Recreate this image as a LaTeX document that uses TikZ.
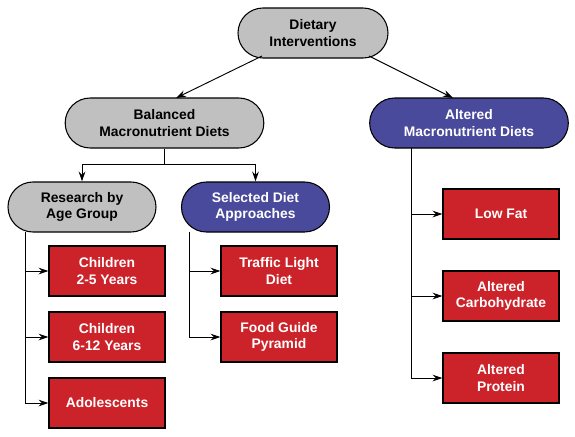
\documentclass[tikz,border=0pt]{standalone}
\usepackage{fontspec}
\setmainfont{Liberation Sans}
\usetikzlibrary{arrows.meta,shapes.misc}
\definecolor{gbox}{HTML}{C0C0C0}
\definecolor{bbox}{HTML}{4A4A9C}
\definecolor{rbox}{HTML}{CC2229}
\tikzset{
  pill/.style={rounded rectangle, draw=black, line width=0.8pt, minimum height=37.5pt, align=center, font=\bfseries\fontsize{10.4}{12.2}\selectfont, inner sep=0pt},
  graypill/.style={pill, fill=gbox, text=black},
  bluepill/.style={pill, fill=bbox, text=white},
  redbox/.style={rectangle, draw=black, line width=0.8pt, fill=rbox, text=white, minimum width=87pt, minimum height=37.5pt, align=center, font=\bfseries\fontsize{10.4}{12.2}\selectfont, inner sep=0pt},
  conn/.style={line width=0.7pt, -{Stealth[length=7.5pt, width=5pt, inset=2.5pt]}},
  plain/.style={line width=0.7pt}
}
\begin{document}
\begin{tikzpicture}[x=0.75pt,y=-0.75pt]
\useasboundingbox (0,0) rectangle (575,436);
\node[graypill, minimum width=112.5pt] (diet) at (313,33) {Dietary\\Interventions};
\node[graypill, minimum width=149pt] (bal) at (164.5,123) {Balanced\\Macronutrient Diets};
\node[bluepill, minimum width=149pt] (alt) at (469,123) {Altered\\Macronutrient Diets};
\node[graypill, minimum width=111pt] (res) at (82,207) {Research by\\Age Group};
\node[bluepill, minimum width=111pt] (sel) at (255.5,207) {Selected Diet\\Approaches};
\node[redbox] (c25) at (107,271) {Children\\2-5 Years};
\node[redbox] (c612) at (107,337) {Children\\6-12 Years};
\node[redbox] (ado) at (107,403) {Adolescents};
\node[redbox] (tld) at (279,271) {Traffic Light\\Diet};
\node[redbox] (fgp) at (279,337) {Food Guide\\Pyramid};
\node[redbox] (lf) at (501,214) {Low Fat};
\node[redbox] (ac) at (501,296) {Altered\\Carbohydrate};
\node[redbox] (ap) at (501,378) {Altered\\Protein};
% top arrows
\coordinate (d1) at (262,56);
\coordinate (d2) at (369,56);
\coordinate (b1) at (176,98);
\coordinate (a1) at (453,98);
\draw[conn] (d1) -- (b1);
\draw[conn] (d2) -- (a1);
% balanced split
\coordinate (bs) at (164.5,164);
\draw[plain] (bal.south) -- (bs);
\draw[conn] (bs) -| (res.north);
\draw[conn] (bs) -| (sel.north);
% research branch
\coordinate (rt) at (25,232);
\coordinate (rb) at (25,403);
\draw[plain] (rt) -- (rb);
\draw[conn] (c25.west -| rt) -- (c25.west);
\draw[conn] (c612.west -| rt) -- (c612.west);
\draw[conn] (rb) -- (ado.west);
% selected branch
\coordinate (st) at (189,232);
\coordinate (sb) at (189,337);
\draw[plain] (st) -- (sb);
\draw[conn] (tld.west -| st) -- (tld.west);
\draw[conn] (sb) -- (fgp.west);
% altered branch
\coordinate (at) at (411,148);
\coordinate (ab) at (411,378);
\draw[plain] (at) -- (ab);
\draw[conn] (lf.west -| at) -- (lf.west);
\draw[conn] (ac.west -| at) -- (ac.west);
\draw[conn] (ab) -- (ap.west);
\end{tikzpicture}
\end{document}
